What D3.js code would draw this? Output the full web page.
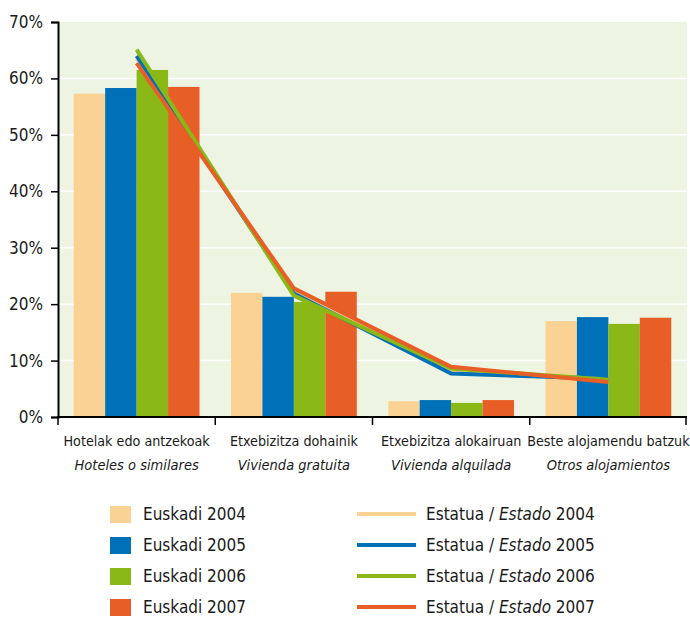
<!DOCTYPE html>
<html>
<head>
<meta charset="utf-8">
<script src="https://cdn.jsdelivr.net/npm/d3@7"></script>
<style>
  body { margin: 0; background: #fff; }
  svg text { font-family: "Liberation Sans Narrow", "DejaVu Sans Condensed", "Roboto Condensed", sans-serif; fill: #1a1a1a; }
</style>
</head>
<body>
<svg width="690" height="619"></svg>
<script>
// categories: basque line + spanish (italic) line
const categories = ['Hotelak edo antzekoak', 'Etxebizitza dohainik', 'Etxebizitza alokairuan', 'Beste alojamendu batzuk'];
const categoriesEs = ['Hoteles o similares', 'Vivienda gratuita', 'Vivienda alquilada', 'Otros alojamientos'];
const years = ['2004', '2005', '2006', '2007'];
const colors = ['#fad394', '#0070b8', '#8ab817', '#e85e27'];

// Euskadi (bars), percent per category, one array per year
const euskadi = [
    [57.3, 22.0, 2.8, 17.0],
    [58.3, 21.3, 3.0, 17.7],
    [61.5, 20.4, 2.5, 16.5],
    [58.5, 22.2, 3.0, 17.6]
];
// Estatua / Estado (lines)
const estado = [
    [63.5, 22.3, 8.0, 6.7],
    [64.0, 21.9, 7.7, 6.8],
    [65.1, 21.5, 8.6, 6.6],
    [62.7, 22.8, 8.9, 6.2]
];
const yTicks = [0, 10, 20, 30, 40, 50, 60, 70];

const svg = d3.select('svg');
const mLeft = 58, mRight = 687, mTop = 22, mBottom = 417;

const x = d3.scaleBand().domain(categories).range([mLeft, mRight]).paddingInner(0).paddingOuter(0);
const xs = d3.scaleBand().domain(years).range([0, x.bandwidth()]).paddingOuter(0.5).paddingInner(0);
const y = d3.scaleLinear().domain([0, 70]).range([mBottom, mTop]);

// plot background
svg.append('rect')
    .attr('x', mLeft).attr('y', mTop)
    .attr('width', mRight - mLeft).attr('height', mBottom - mTop)
    .attr('fill', '#eef4e2');

// grid
svg.append('g').selectAll('line')
    .data(yTicks.filter(d => d > 0 && d < 70))
    .join('line')
    .attr('x1', mLeft).attr('x2', mRight)
    .attr('y1', d => y(d)).attr('y2', d => y(d))
    .attr('stroke', '#fff').attr('stroke-width', 1.5);

// bars
const bars = svg.append('g');
euskadi.forEach(function(series, i) {
    bars.selectAll('rect.s' + i)
        .data(series)
        .join('rect')
        .attr('class', 's' + i)
        .attr('x', (d, j) => x(categories[j]) + xs(years[i]))
        .attr('y', d => y(d))
        .attr('width', xs.bandwidth())
        .attr('height', d => y(0) - y(d))
        .attr('fill', colors[i]);
});

// lines
const line = d3.line()
    .x((d, j) => x(categories[j]) + x.bandwidth() / 2)
    .y(d => y(d));
estado.forEach(function(series, i) {
    svg.append('path')
        .datum(series)
        .attr('d', line)
        .attr('fill', 'none')
        .attr('stroke', colors[i])
        .attr('stroke-width', 4)
        .attr('stroke-linejoin', 'miter');
});

// y axis
const yAxis = svg.append('g')
    .attr('transform', 'translate(' + mLeft + ',0)')
    .call(d3.axisLeft(y).tickValues(yTicks).tickFormat(d => d + '%').tickSize(7).tickPadding(8));
yAxis.select('.domain').attr('stroke', '#000').attr('stroke-width', 2);
yAxis.selectAll('.tick line').attr('stroke', '#000').attr('stroke-width', 1.5);
yAxis.selectAll('.tick text').style('font-size', '17px');

// x axis
const xAxisG = svg.append('g');
xAxisG.append('line')
    .attr('x1', mLeft - 1).attr('x2', mRight)
    .attr('y1', mBottom).attr('y2', mBottom)
    .attr('stroke', '#000').attr('stroke-width', 2);
xAxisG.selectAll('line.tk')
    .data(categories.map(c => x(c)).concat([mRight - 1]))
    .join('line')
    .attr('class', 'tk')
    .attr('x1', d => d).attr('x2', d => d)
    .attr('y1', mBottom).attr('y2', mBottom + 8)
    .attr('stroke', '#000').attr('stroke-width', 1.5);
xAxisG.selectAll('text.c1')
    .data(categories)
    .join('text')
    .attr('class', 'c1')
    .attr('x', d => x(d) + x.bandwidth() / 2)
    .attr('y', 446)
    .attr('text-anchor', 'middle')
    .style('font-size', '14.2px')
    .text(d => d);
xAxisG.selectAll('text.c2')
    .data(categoriesEs)
    .join('text')
    .attr('class', 'c2')
    .attr('x', (d, j) => x(categories[j]) + x.bandwidth() / 2)
    .attr('y', 470)
    .attr('text-anchor', 'middle')
    .style('font-size', '14.5px')
    .style('font-style', 'italic')
    .text(d => d);

// legend
const legend = svg.append('g');
years.forEach(function(yr, i) {
    const cy = 514 + i * 31;
    legend.append('rect')
        .attr('x', 110).attr('y', cy - 8)
        .attr('width', 21).attr('height', 17)
        .attr('fill', colors[i]);
    legend.append('text')
        .attr('x', 143).attr('y', cy + 6)
        .style('font-size', '17px')
        .text('Euskadi ' + yr);
    legend.append('line')
        .attr('x1', 357).attr('x2', 416)
        .attr('y1', cy).attr('y2', cy)
        .attr('stroke', colors[i]).attr('stroke-width', 4);
    const t = legend.append('text')
        .attr('x', 426).attr('y', cy + 6)
        .style('font-size', '17px');
    t.append('tspan').text('Estatua / ');
    t.append('tspan').style('font-style', 'italic').text('Estado');
    t.append('tspan').text(' ' + yr);
});
</script>
</body>
</html>
